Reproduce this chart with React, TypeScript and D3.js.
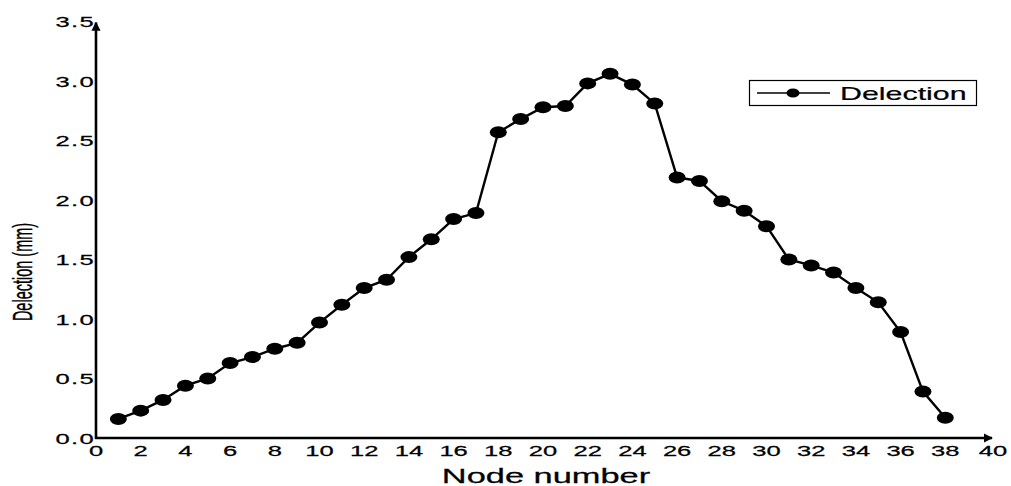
import React, { useEffect, useRef } from 'react';
import * as d3 from 'd3';

// Node numbers and measured deflection (mm)
const nodes = d3.range(1, 39);
const deflection = [
  0.16, 0.23, 0.32, 0.44, 0.5, 0.63, 0.68, 0.75, 0.8, 0.97,
  1.12, 1.26, 1.33, 1.52, 1.67, 1.84, 1.89, 2.57, 2.68, 2.78,
  2.79, 2.98, 3.06, 2.97, 2.81, 2.19, 2.16, 1.99, 1.91, 1.78,
  1.5, 1.45, 1.39, 1.26, 1.14, 0.89, 0.39, 0.17,
];
const xTicks = d3.range(0, 41, 2);
const yTicks = [0, 0.5, 1.0, 1.5, 2.0, 2.5, 3.0, 3.5];
const seriesName = 'Delection';
const xTitle = 'Node number';
const yTitle = 'Delection (mm)';

const W = 1011;
const H = 486;
const SX = 1.65; // the source is stretched horizontally
const FONT = '"Liberation Sans", Arial, sans-serif';

const App = () => {
  const svgRef = useRef(null);

  useEffect(() => {
    const svg = d3.select(svgRef.current);
    svg.selectAll('*').remove();

    const x = d3.scaleLinear().domain([0, 40]).range([96, 990]);
    const y = d3.scaleLinear().domain([0, 3.5]).range([438, 21.5]);

    // arrow heads
    const defs = svg.append('defs');
    defs
      .append('marker')
      .attr('id', 'arrow')
      .attr('viewBox', '0 0 10 10')
      .attr('refX', 9)
      .attr('refY', 5)
      .attr('markerWidth', 3.5)
      .attr('markerHeight', 3.5)
      .attr('orient', 'auto')
      .append('path')
      .attr('d', 'M0,0 L10,5 L0,10 Z')
      .attr('fill', '#000');

    // axes
    svg
      .append('line')
      .attr('x1', x(0))
      .attr('x2', x(0))
      .attr('y1', y(0) + 1)
      .attr('y2', y(3.5) + 1)
      .attr('stroke', '#000')
      .attr('stroke-width', 2.6)
      .attr('marker-end', 'url(#arrow)');
    svg
      .append('line')
      .attr('x1', x(0) - 1)
      .attr('x2', x(40) + 2)
      .attr('y1', y(0))
      .attr('y2', y(0))
      .attr('stroke', '#000')
      .attr('stroke-width', 2.6)
      .attr('marker-end', 'url(#arrow)');

    // y tick labels
    svg
      .append('g')
      .selectAll('text')
      .data(yTicks)
      .enter()
      .append('text')
      .attr('transform', (d) => `translate(95, ${y(d) + 5.5}) scale(${SX}, 1)`)
      .attr('text-anchor', 'end')
      .attr('font-family', FONT)
      .attr('font-size', 15.5)
      .attr('letter-spacing', 0.8)
      .attr('stroke', '#000')
      .attr('stroke-width', 0.25)
      .text((d) => d3.format('.1f')(d));

    // x tick labels
    svg
      .append('g')
      .selectAll('text')
      .data(xTicks)
      .enter()
      .append('text')
      .attr('transform', (d) => `translate(${x(d) + (d === 40 ? 3 : 0)}, 456) scale(${SX}, 1)`)
      .attr('text-anchor', 'middle')
      .attr('font-family', FONT)
      .attr('font-size', 15.5)
      .attr('stroke', '#000')
      .attr('stroke-width', 0.25)
      .text((d) => d);

    // axis titles
    svg
      .append('text')
      .attr('transform', `translate(546, 483) scale(1.72, 1)`)
      .attr('text-anchor', 'middle')
      .attr('font-family', FONT)
      .attr('font-size', 20)
      .attr('stroke', '#000')
      .attr('stroke-width', 0.25)
      .text(xTitle);
    svg
      .append('text')
      .attr('transform', `translate(32, 272) rotate(-90) scale(1, 1.9)`)
      .attr('text-anchor', 'middle')
      .attr('font-family', FONT)
      .attr('font-size', 14.5)
      .attr('stroke', '#000')
      .attr('stroke-width', 0.2)
      .text(yTitle);

    // series line
    const line = d3
      .line()
      .x((d) => x(d[0]))
      .y((d) => y(d[1]));
    const pts = nodes.map((n, i) => [n, deflection[i]]);
    svg
      .append('path')
      .datum(pts)
      .attr('d', line)
      .attr('fill', 'none')
      .attr('stroke', '#000')
      .attr('stroke-width', 2.4);

    // markers
    svg
      .append('g')
      .selectAll('ellipse')
      .data(pts)
      .enter()
      .append('ellipse')
      .attr('cx', (d) => x(d[0]))
      .attr('cy', (d) => y(d[1]))
      .attr('rx', 8.5)
      .attr('ry', 6)
      .attr('fill', '#000');

    // legend
    const lg = svg.append('g');
    lg.append('rect')
      .attr('x', 749.5)
      .attr('y', 80.5)
      .attr('width', 227)
      .attr('height', 25)
      .attr('fill', '#fff')
      .attr('stroke', '#000')
      .attr('stroke-width', 1.2);
    lg.append('line')
      .attr('x1', 757)
      .attr('x2', 830)
      .attr('y1', 93)
      .attr('y2', 93)
      .attr('stroke', '#000')
      .attr('stroke-width', 1.6);
    lg.append('ellipse')
      .attr('cx', 793)
      .attr('cy', 93)
      .attr('rx', 6.5)
      .attr('ry', 4.5)
      .attr('fill', '#000');
    lg.append('text')
      .attr('transform', `translate(840, 100) scale(1.6, 1)`)
      .attr('font-family', FONT)
      .attr('font-size', 19)
      .attr('stroke', '#000')
      .attr('stroke-width', 0.2)
      .text(seriesName);
  }, []);

  return (
    <svg
      ref={svgRef}
      width={W}
      height={H}
      style={{ position: 'absolute', left: 0, top: 0, background: '#fff' }}
    />
  );
};

export default App;
